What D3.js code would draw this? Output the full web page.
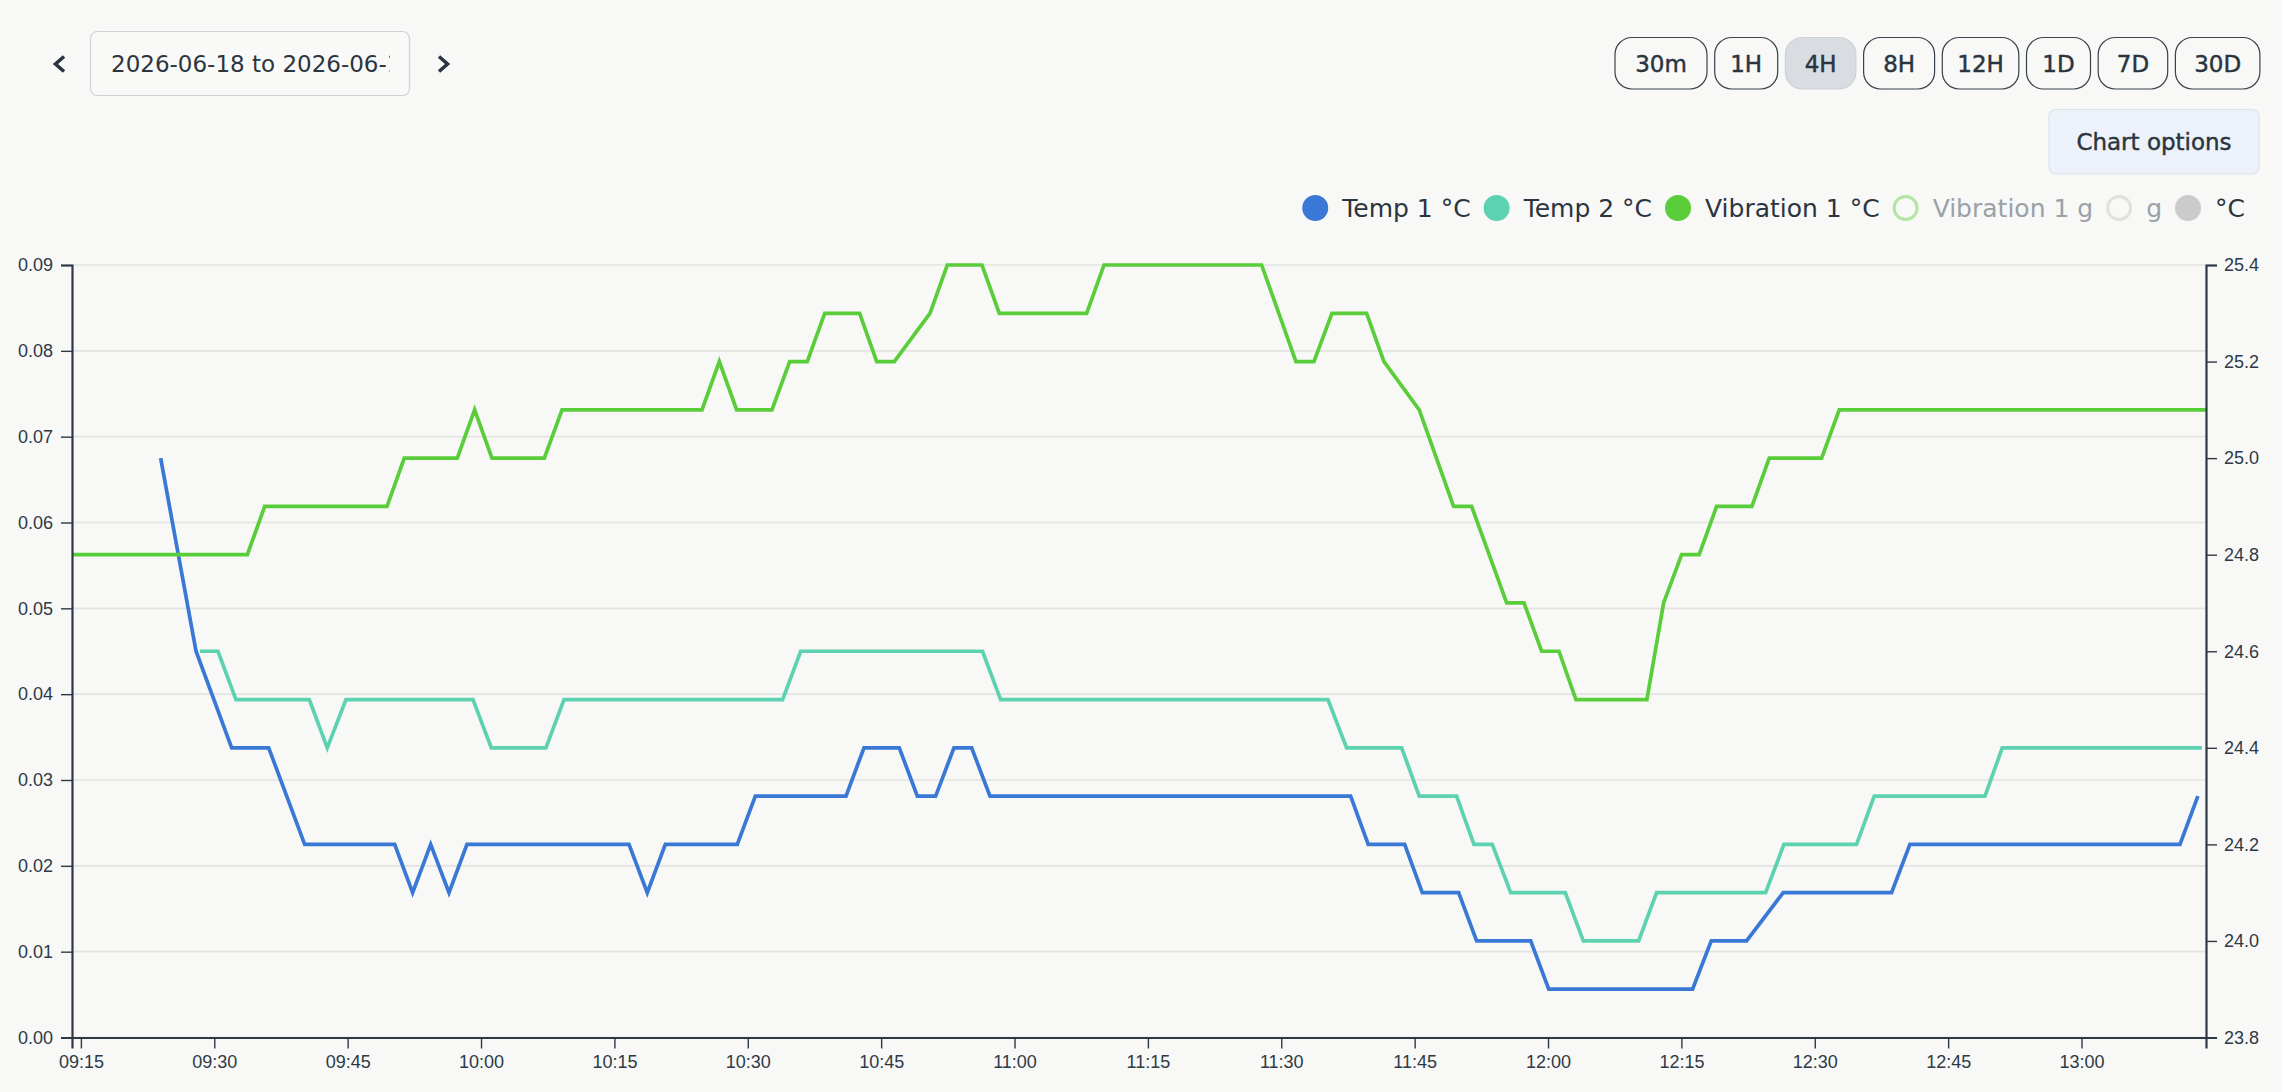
<!DOCTYPE html>
<html>
<head>
<meta charset="utf-8">
<script src="https://cdn.jsdelivr.net/npm/d3@7"></script>
<style>
    html, body { margin: 0; padding: 0; background: #f8f8f7; overflow: hidden; }
    svg { display: block; }
</style>
</head>
<body>
<div id="chart"></div>
<script>
const width = 2282;
const height = 1092;

// toolbar
const rangeLabels = ["30m", "1H", "4H", "8H", "12H", "1D", "7D", "30D"];
const activeRange = "4H";
const dateRangeText = "2026-06-18 to 2026-06-18";

// legend
const legendLabels = ["Temp 1 °C", "Temp 2 °C", "Vibration 1 °C", "Vibration 1 g", "g", "°C"];
const legendHidden = [false, false, false, true, true, false];

// axes
const startTime = new Date(2026, 5, 18, 9, 14);
const endTime = new Date(2026, 5, 18, 13, 14);
const xTickLabels = ["09:15", "09:30", "09:45", "10:00", "10:15", "10:30", "10:45", "11:00",
    "11:15", "11:30", "11:45", "12:00", "12:15", "12:30", "12:45", "13:00"];
const leftTicks = [0, 0.01, 0.02, 0.03, 0.04, 0.05, 0.06, 0.07, 0.08, 0.09];
const rightTicks = [23.8, 24.0, 24.2, 24.4, 24.6, 24.8, 25.0, 25.2, 25.4];

// series (minutes after 09:14, value in °C)
const temp1Minutes = [9.97, 13.95, 17.96, 22.12, 26.17, 36.29, 38.31, 40.34, 42.4, 44.42,
    62.64, 64.7, 66.73, 74.82, 76.85, 87.05, 89.07, 93.04, 95.07, 97.13, 99.19, 101.18, 103.24,
    143.8, 145.78, 149.88, 151.86, 155.95, 157.97, 164.05, 166.08, 182.26, 184.36, 188.33,
    192.45, 204.64, 206.7, 237.07, 239.09];
const temp1Values = [25.0, 24.6, 24.4, 24.4, 24.2, 24.2, 24.1, 24.2, 24.1, 24.2,
    24.2, 24.1, 24.2, 24.2, 24.3, 24.3, 24.4, 24.4, 24.3, 24.3, 24.4, 24.4, 24.3,
    24.3, 24.2, 24.2, 24.1, 24.1, 24.0, 24.0, 23.9, 23.9, 24.0, 24.0,
    24.1, 24.1, 24.2, 24.2, 24.3];

const temp2Minutes = [14.39, 16.42, 18.44, 26.69, 28.71, 30.81, 45.1, 47.16, 53.3, 55.33,
    79.92, 81.95, 102.4, 104.44, 141.25, 143.35, 149.54, 151.52, 155.72, 157.67, 159.73,
    161.8, 167.94, 169.97, 176.19, 178.21, 190.47, 192.53, 200.7, 202.69, 215.14, 217.09, 239.54];
const temp2Values = [24.6, 24.6, 24.5, 24.5, 24.4, 24.5, 24.5, 24.4, 24.4, 24.5,
    24.5, 24.6, 24.6, 24.5, 24.5, 24.4, 24.4, 24.3, 24.3, 24.2, 24.2,
    24.1, 24.1, 24.0, 24.0, 24.1, 24.1, 24.2, 24.2, 24.3, 24.3, 24.4, 24.4];

const vib1Minutes = [0, 19.72, 21.67, 35.43, 37.37, 43.33, 45.28, 47.23, 53.12, 55.11,
    70.85, 72.8, 74.75, 78.72, 80.71, 82.69, 84.65, 88.58, 90.5, 92.48, 96.49, 98.44,
    102.34, 104.29, 114.11, 116.06, 133.79, 137.65, 139.67, 141.7, 145.6, 147.55, 151.52,
    155.38, 157.41, 161.35, 163.3, 165.28, 167.23, 169.14, 177.12, 179.0, 181.03, 183.0,
    184.96, 188.93, 190.88, 196.77, 198.75, 240];
const vib1Values = [24.8, 24.8, 24.9, 24.9, 25.0, 25.0, 25.1, 25.0, 25.0, 25.1,
    25.1, 25.2, 25.1, 25.1, 25.2, 25.2, 25.3, 25.3, 25.2, 25.2, 25.3, 25.4,
    25.4, 25.3, 25.3, 25.4, 25.4, 25.2, 25.2, 25.3, 25.3, 25.2, 25.1,
    24.9, 24.9, 24.7, 24.7, 24.6, 24.6, 24.5, 24.5, 24.7, 24.8, 24.8,
    24.9, 24.9, 25.0, 25.0, 25.1, 25.1];

const colors = ["#3a78d6", "#5dd2b0", "#5acd3a", "#b3e6a0", "#e0e0df", "#cbcbcb"];
const textColor = "#2a3540";
const mutedText = "#9aa1a7";
const axisColor = "#2d3a46";

const toDate = m => new Date(startTime.getTime() + m * 60000);
const series = [
    {minutes: temp1Minutes, values: temp1Values, color: colors[0]},
    {minutes: temp2Minutes, values: temp2Values, color: colors[1]},
    {minutes: vib1Minutes, values: vib1Values, color: colors[2]},
].map(s => ({color: s.color, points: s.minutes.map((m, i) => ({t: toDate(m), v: s.values[i]}))}));

const pl = 72;
const pr = 76;
const pt = 265;
const pb = 54.5;

const svg = d3.select("#chart").append("svg")
    .attr("width", width)
    .attr("height", height)
    .attr("viewBox", `0 0 ${width} ${height}`)
    .style("font-family", "'DejaVu Sans', sans-serif");

// medium-ish weight: DejaVu only has book/bold, so thicken book a little
const medium = sel => sel.attr("stroke", textColor).attr("stroke-width", 0.45);

// ---- toolbar: date picker
const chevron = d3.line();
svg.append("path")
    .attr("d", chevron([[64, 56.5], [55.5, 64], [64, 71.5]]))
    .attr("fill", "none").attr("stroke", textColor).attr("stroke-width", 3.6);
svg.append("path")
    .attr("d", chevron([[439, 56.5], [447.5, 64], [439, 71.5]]))
    .attr("fill", "none").attr("stroke", textColor).attr("stroke-width", 3.6);

svg.append("clipPath").attr("id", "dateClip")
    .append("rect").attr("x", 92).attr("y", 32).attr("width", 298).attr("height", 62);
svg.append("rect")
    .attr("x", 90.5).attr("y", 31.5).attr("width", 319).attr("height", 64).attr("rx", 7)
    .attr("fill", "#f9f9f8").attr("stroke", "#cfd2d4").attr("stroke-width", 1.2);
svg.append("text")
    .attr("clip-path", "url(#dateClip)")
    .attr("x", 111).attr("y", 72)
    .attr("fill", textColor)
    .style("font-size", "23px")
    .text(dateRangeText);

// ---- toolbar: range buttons
const buttonWidths = [92, 63, 70.5, 71, 76.5, 64, 69.5, 84.5];
const buttonGap = 7.7;
let bx = 1615;
const buttons = rangeLabels.map((label, i) => {
    const b = {label, x: bx, w: buttonWidths[i]};
    bx += buttonWidths[i] + buttonGap;
    return b;
});

const buttonGroups = svg.append("g").selectAll("g")
    .data(buttons)
    .join("g")
    .attr("transform", d => `translate(${d.x}, 37.5)`);

buttonGroups.append("rect")
    .attr("width", d => d.w)
    .attr("height", 51.5)
    .attr("rx", 17)
    .attr("fill", d => d.label === activeRange ? "#d9dde2" : "#f8f8f7")
    .attr("stroke", d => d.label === activeRange ? "#cdd2d8" : "#39434d")
    .attr("stroke-width", 1.2);

buttonGroups.append("text")
    .attr("x", d => d.w / 2)
    .attr("y", 34.5)
    .attr("text-anchor", "middle")
    .attr("fill", textColor)
    .style("font-size", "23px")
    .call(medium)
    .text(d => d.label);

// ---- chart options button
svg.append("rect")
    .attr("x", 2049).attr("y", 109.5).attr("width", 210).attr("height", 64.5).attr("rx", 7)
    .attr("fill", "#edf2fa").attr("stroke", "#dce3ec").attr("stroke-width", 1.2);
svg.append("text")
    .attr("x", 2154).attr("y", 150)
    .attr("text-anchor", "middle")
    .attr("fill", textColor)
    .style("font-size", "23px")
    .call(medium)
    .text("Chart options");

// ---- legend
const legend = svg.append("g");
const legendItems = legend.selectAll("g")
    .data(legendLabels.map((label, i) => ({label, color: colors[i], hidden: legendHidden[i]})))
    .join("g");

legendItems.append("circle")
    .attr("r", d => d.hidden ? 11.5 : 13)
    .attr("cx", 13)
    .attr("cy", 208)
    .attr("fill", d => d.hidden ? "none" : d.color)
    .attr("stroke", d => d.hidden ? d.color : "none")
    .attr("stroke-width", 3);

legendItems.append("text")
    .attr("x", 40)
    .attr("y", 217)
    .attr("fill", d => d.hidden ? mutedText : textColor)
    .style("font-size", "25px")
    .text(d => d.label);

let lx = 0;
const itemX = [];
legendItems.each(function () {
    const w = 40 + this.querySelector("text").getComputedTextLength();
    itemX.push(lx);
    lx += w + 13;
});
const legendStart = 2245 - (lx - 13);
legendItems.attr("transform", (d, i) => `translate(${legendStart + itemX[i]}, 0)`);

// ---- scales
const x = d3.scaleTime().domain([startTime, endTime]).range([pl, width - pr]);
const yLeft = d3.scaleLinear().domain([0, 0.09]).range([height - pb, pt]);
const yRight = d3.scaleLinear().domain([23.8, 25.4]).range([height - pb, pt]);

// ---- gridlines
svg.append("g")
    .selectAll("line")
    .data(leftTicks)
    .join("line")
    .attr("x1", pl)
    .attr("x2", width - pr)
    .attr("y1", d => yLeft(d))
    .attr("y2", d => yLeft(d))
    .attr("stroke", "#e3e3e1")
    .attr("stroke-width", 1.6);

// ---- lines
const line = d3.line()
    .x(d => x(d.t))
    .y(d => yRight(d.v));

svg.append("g")
    .selectAll("path")
    .data(series)
    .join("path")
    .attr("d", d => line(d.points))
    .attr("fill", "none")
    .attr("stroke", d => d.color)
    .attr("stroke-width", 3.7);

// ---- axes
const parseTick = d3.timeParse("%Y-%m-%d %H:%M");
const xTickValues = xTickLabels.map(l => parseTick("2026-06-18 " + l));

function styleAxis(g) {
    g.attr("font-size", 18).attr("font-family", "'Liberation Sans', Arial, sans-serif");
    g.select(".domain").attr("stroke", axisColor).attr("stroke-width", 2.2);
    g.selectAll(".tick line").attr("stroke", axisColor).attr("stroke-width", 1.4);
    g.selectAll(".tick text").attr("fill", axisColor);
}

svg.append("g")
    .attr("transform", `translate(0, ${height - pb})`)
    .call(d3.axisBottom(x)
        .tickValues(xTickValues)
        .tickFormat((d, i) => xTickLabels[i])
        .tickSize(11)
        .tickPadding(7))
    .call(styleAxis);

svg.append("g")
    .attr("transform", `translate(${pl}, 0)`)
    .call(d3.axisLeft(yLeft)
        .tickValues(leftTicks)
        .tickFormat(d3.format(".2f"))
        .tickSize(11)
        .tickPadding(8))
    .call(styleAxis);

svg.append("g")
    .attr("transform", `translate(${width - pr}, 0)`)
    .call(d3.axisRight(yRight)
        .tickValues(rightTicks)
        .tickFormat(d3.format(".1f"))
        .tickSize(11)
        .tickPadding(7))
    .call(styleAxis);
</script>
</body>
</html>
